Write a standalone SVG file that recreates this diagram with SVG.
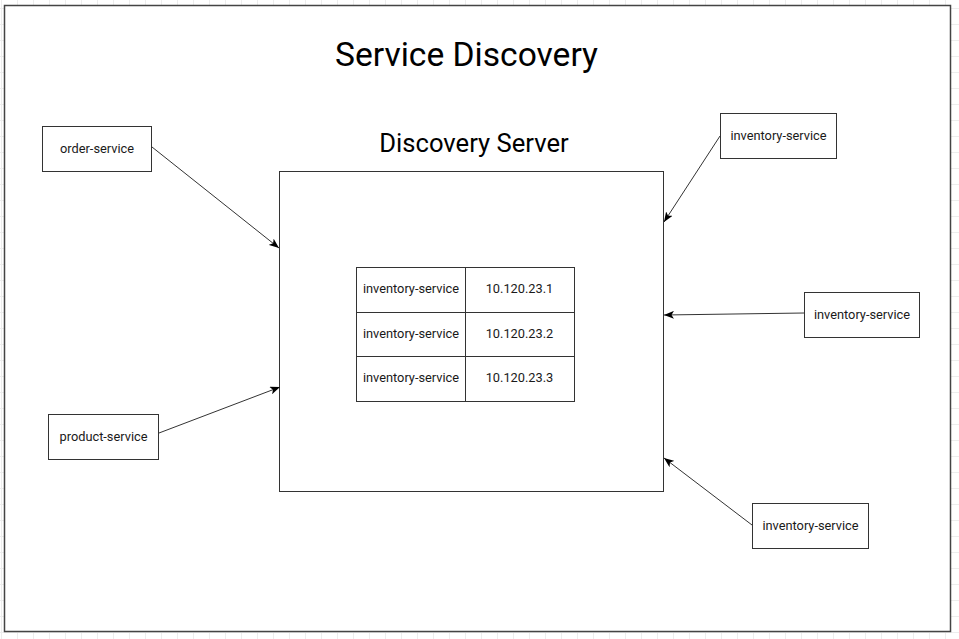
<svg xmlns="http://www.w3.org/2000/svg" width="959" height="639" viewBox="0 0 959 639">
<style>
.box{fill:#fff;stroke:#333;stroke-width:1}
.lbl{font-family:Roboto,"Liberation Sans",sans-serif;font-size:12.8px;fill:#1a1a1a;text-anchor:middle;dominant-baseline:central}
.edge{fill:none;stroke:#333;stroke-width:1}
</style>
<defs>
<pattern id="grid" width="16" height="16" patternUnits="userSpaceOnUse" x="1" y="8">
<path d="M0.5,0 V16 M0,0.5 H16" fill="none" stroke="#ededed" stroke-width="1"/>
</pattern>
<marker id="arr" viewBox="0 0 10 8" refX="10" refY="4" markerWidth="10" markerHeight="8" markerUnits="userSpaceOnUse" orient="auto">
<path d="M0,0 L10,4 L0,8 L2.5,4 z" fill="#000"/>
</marker>
</defs>
<rect width="959" height="639" fill="#fff"/>
<rect width="959" height="639" fill="url(#grid)"/>
<g id="frame">
<rect x="4.5" y="5.5" width="946" height="626" fill="#fff" stroke="#444" stroke-width="1.5"/>
<text x="466.5" y="66" font-family="Roboto,'Liberation Sans',sans-serif" font-size="33.6" fill="#000" text-anchor="middle">Service Discovery</text>
</g>
<g id="discovery-server">
<text x="474" y="152" font-family="Roboto,'Liberation Sans',sans-serif" font-size="25.6" fill="#000" text-anchor="middle">Discovery Server</text>
<rect class="box" x="279.5" y="171.5" width="384" height="320"/>
</g>
<g id="registry-table">
<rect class="box" x="356.5" y="267.5" width="218" height="134"/>
<path class="edge" d="M465.5,267.5 V401.5 M356.5,312.5 H574.5 M356.5,356.5 H574.5"/>
<text class="lbl" x="411" y="288.5">inventory-service</text>
<text class="lbl" x="519.5" y="288.5">10.120.23.1</text>
<text class="lbl" x="411" y="333">inventory-service</text>
<text class="lbl" x="519.5" y="333">10.120.23.2</text>
<text class="lbl" x="411" y="377">inventory-service</text>
<text class="lbl" x="519.5" y="377">10.120.23.3</text>
</g>
<g id="order-service">
<rect class="box" x="42.5" y="126.5" width="109" height="45"/>
<text class="lbl" x="97" y="148">order-service</text>
</g>
<g id="product-service">
<rect class="box" x="48.5" y="414.5" width="110" height="45"/>
<text class="lbl" x="103.5" y="436">product-service</text>
</g>
<g id="inventory-service-1">
<rect class="box" x="720.5" y="113.5" width="116" height="45"/>
<text class="lbl" x="778.5" y="135">inventory-service</text>
</g>
<g id="inventory-service-2">
<rect class="box" x="804.5" y="292.5" width="115" height="45"/>
<text class="lbl" x="862" y="314">inventory-service</text>
</g>
<g id="inventory-service-3">
<rect class="box" x="752.5" y="503.5" width="116" height="45"/>
<text class="lbl" x="810.5" y="525">inventory-service</text>
</g>
<g id="connectors">
<path class="edge" d="M152,147 L279,248" marker-end="url(#arr)"/>
<path class="edge" d="M159,433 L280,387" marker-end="url(#arr)"/>
<path class="edge" d="M720,136 L664,222" marker-end="url(#arr)"/>
<path class="edge" d="M804,313 L664,315" marker-end="url(#arr)"/>
<path class="edge" d="M752,525 L664,458" marker-end="url(#arr)"/>
</g>
</svg>
